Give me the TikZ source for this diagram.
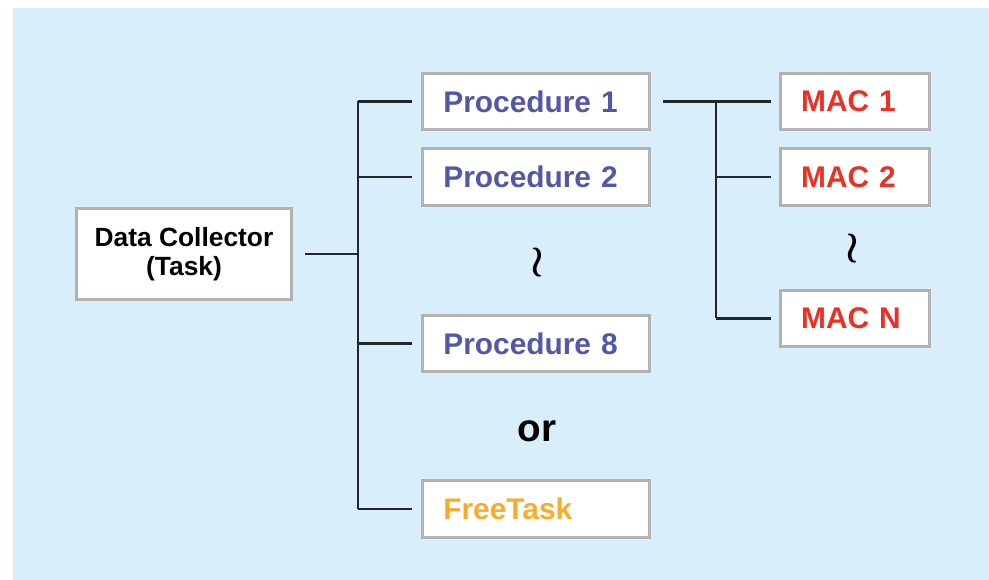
\documentclass[tikz,border=0pt]{standalone}
\usepackage{amsmath}
\usepackage{fontspec}
\setmainfont{Liberation Sans}

\definecolor{bgblue}{RGB}{216,238,251}
\definecolor{boxgrey}{RGB}{178,178,178}
\definecolor{procblue}{RGB}{82,88,168}
\definecolor{macred}{RGB}{236,48,36}
\definecolor{freeorange}{RGB}{250,172,40}
\definecolor{wiregrey}{RGB}{34,38,42}

\begin{document}
\begin{tikzpicture}[x=0.02cm,y=-0.02cm,
    box/.style={draw=boxgrey,fill=white,line width=1.7pt,font=\bfseries\fontsize{17}{20}\selectfont,
                text width=186*0.567pt,align=left,inner xsep=21*0.567pt,minimum height=57*0.567pt},
    macbox/.style={box,text width=108*0.567pt},
    wire/.style={draw=wiregrey,line width=1.4pt},
    squig/.style={font=\boldmath\fontsize{28}{30}\selectfont}]

  \useasboundingbox (0,0) rectangle (989,580);
  \fill[bgblue] (13,8) rectangle (989,580);

  \node[draw=boxgrey,fill=white,line width=1.7pt,minimum width=216*0.567pt,minimum height=91*0.567pt,
        align=center,font=\bfseries\fontsize{15}{16.5}\selectfont] (dc) at (184,254) {Data Collector\\(Task)};

  \node[box,text=procblue] (p1) at (536,101.5) {Procedure 1};
  \node[box,text=procblue] (p2) at (536,177) {Procedure 2};
  \node[box,text=procblue] (p8) at (536,343.5) {Procedure 8};
  \node[box,text=freeorange] (ft) at (536,509) {FreeTask};

  \node[macbox,text=macred] (m1) at (855,101.5) {MAC 1};
  \node[macbox,text=macred] (m2) at (855,177) {MAC 2};
  \node[macbox,text=macred] (mn) at (855,318.5) {MAC N};

  \node[squig] (d1) at (537,263) {$\wr$};
  \node[squig] (d2) at (852,249) {$\wr$};
  \node[font=\bfseries\fontsize{22}{24}\selectfont] (or) at (537,431) {or};

  \coordinate (tr) at (358,0);
  \coordinate (mt) at (716,0);

  % data collector to procedures
  \draw[wire,shorten <=7pt] (dc.east) -- (dc.east -| tr);
  \draw[wire] (p1.west -| tr) -- (ft.west -| tr);
  \foreach \n in {p1,p2,p8,ft}
    \draw[wire,shorten >=5pt] (\n.west -| tr) -- (\n.west);

  % procedure 1 to MACs
  \draw[wire,shorten <=7pt,shorten >=4.5pt] (p1.east) -- (m1.west);
  \draw[wire] (m1.west -| mt) -- (mn.west -| mt);
  \foreach \n in {m2,mn}
    \draw[wire,shorten >=4.5pt] (\n.west -| mt) -- (\n.west);

\end{tikzpicture}
\end{document}
